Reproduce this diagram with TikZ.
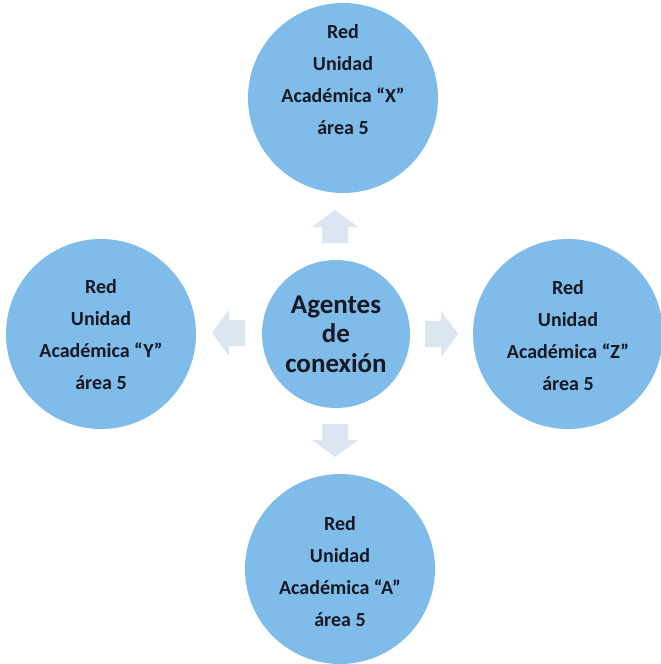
\documentclass[tikz,border=0pt]{standalone}
\usepackage{fontspec}
\setmainfont{Carlito}
\definecolor{circfill}{RGB}{128,188,233}
\definecolor{arrfill}{RGB}{220,230,242}
\definecolor{txt}{RGB}{22,24,36}
\begin{document}
\begin{tikzpicture}[x=1pt,y=-1pt,
  unit/.style={circle,fill=circfill,minimum size=190pt,inner sep=0pt},
  unittext/.style={align=center,inner sep=0pt,
    font=\fontsize{20}{32}\selectfont\bfseries,text=txt},
  hub/.style={circle,fill=circfill,minimum size=148pt,inner sep=0pt,align=center,
    font=\fontsize{27}{29.5}\selectfont\bfseries,text=txt},
  blockarrow/.style={fill=arrfill,draw=none}]
\fill[white] (0,0) rectangle (661,664);
\useasboundingbox (0,0) rectangle (661,664);
\node[unit] (x) at (343,98) {};
\node[unit] (y) at (101,334) {};
\node[unit] (z) at (568,334) {};
\node[unit] (a) at (340,569) {};
\node[unittext] (xt) at (343,80) {Red\\Unidad\\Académica “X”\\área 5};
\node[unittext] (yt) at (101,335) {Red\\Unidad\\Académica “Y”\\área 5};
\node[unittext] (zt) at (568,336) {Red\\Unidad\\Académica “Z”\\área 5};
\node[unittext] (at) at (340,572) {Red\\Unidad\\Académica “A”\\área 5};
\node[hub] (c) at (336,334) {Agentes\\de\\conexión};
% block arrows
\coordinate (up) at (335,210);
\coordinate (lt) at (212,333);
\coordinate (rt) at (458,334);
\coordinate (dn) at (335,457);
\fill[blockarrow] (up) -- ++(23,17) -- ++(-10,0) -- ++(0,16) -- ++(-26,0) -- ++(0,-16) -- ++(-10,0) -- cycle;
\fill[blockarrow] (dn) -- ++(23,-17) -- ++(-10,0) -- ++(0,-16) -- ++(-26,0) -- ++(0,16) -- ++(-10,0) -- cycle;
\fill[blockarrow] (lt) -- ++(17,23) -- ++(0,-10) -- ++(16,0) -- ++(0,-26) -- ++(-16,0) -- ++(0,-10) -- cycle;
\fill[blockarrow] (rt) -- ++(-17,23) -- ++(0,-10) -- ++(-16,0) -- ++(0,-26) -- ++(16,0) -- ++(0,-10) -- cycle;
\end{tikzpicture}
\end{document}
